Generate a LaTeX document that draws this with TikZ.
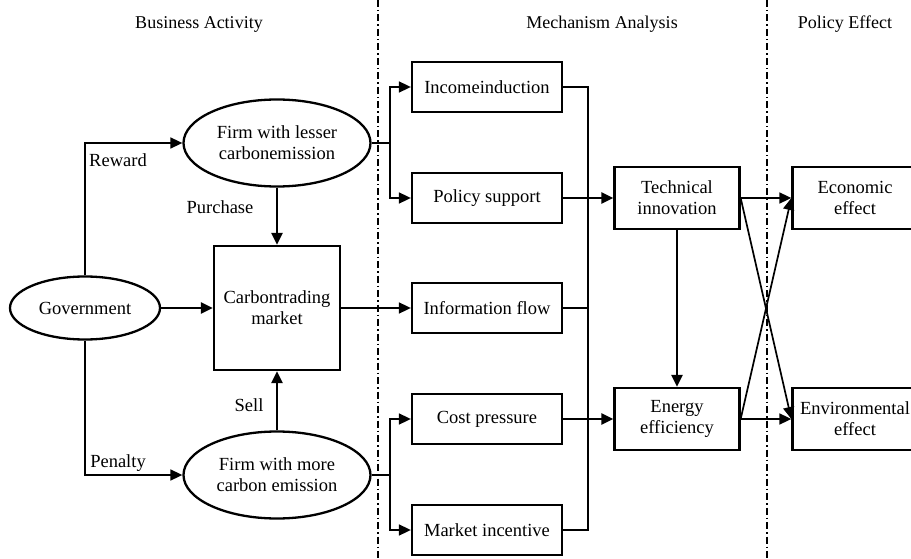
\documentclass[tikz,border=0pt]{standalone}
\usepackage{fontspec}
\setmainfont{Liberation Serif}
\usetikzlibrary{arrows.meta,shapes.geometric}
\begin{document}
\begin{tikzpicture}[x=1pt,y=-1pt,
  every node/.style={font=\fontsize{18.5}{21}\selectfont},
  bx/.style={draw, line width=2.3pt, inner sep=0pt, align=center},
  mbox/.style={bx, minimum width=150pt, minimum height=50pt},
  rbox/.style={bx, minimum width=125pt, minimum height=62pt},
  el/.style={ellipse, draw, line width=2.3pt, inner sep=0pt, align=center},
  con/.style={line width=1.7pt},
  arr/.style={con, -{Triangle[length=12pt,width=11pt]}},
  tarr/.style={line width=2.8pt, -{Triangle[length=12pt,width=11pt]}},
  sep/.style={line width=2pt, dash pattern=on 7pt off 3pt on 1.5pt off 3pt},
  hdr/.style={font=\fontsize{18}{21}\selectfont},
  lbl/.style={inner sep=0pt}
]
\useasboundingbox (0,0) rectangle (911,559);

% separators
\coordinate (s1t) at (378,0); \coordinate (s1b) at (378,559);
\coordinate (s2t) at (767,0); \coordinate (s2b) at (767,559);
\draw[sep] (s1t) -- (s1b);
\draw[sep] (s2t) -- (s2b);

% headers
\node[hdr] (h1) at (199,24) {Business Activity};
\node[hdr] (h2) at (602,24) {Mechanism Analysis};
\node[hdr] (h3) at (845,24) {Policy Effect};

% left part
\node[el, minimum width=150pt, minimum height=63pt] (gov) at (85,308) {Government};
\node[el, minimum width=187pt, minimum height=87pt] (fl) at (277,143) {Firm with lesser\\carbonemission};
\node[el, minimum width=187pt, minimum height=87pt] (fm) at (277,475) {Firm with more\\carbon emission};
\node[bx, minimum width=126pt, minimum height=124pt] (ctm) at (277,308) {Carbontrading\\market};

% middle boxes
\node[mbox] (inc)  at (487,87)  {Incomeinduction};
\node[mbox] (pol)  at (487,198) {Policy support};
\node[mbox] (inf)  at (487,308) {Information flow};
\node[mbox] (cost) at (487,419) {Cost pressure};
\node[mbox] (mkt)  at (487,530) {Market incentive};

% right boxes
\node[rbox] (tech) at (677,198) {Technical\\innovation};
\node[rbox] (ener) at (677,419) {Energy\\efficiency};
\node[rbox] (eco)  at (855,198) {Economic\\effect};
\node[rbox] (env)  at (855,419) {Environmental\\effect};

% labels
\node[lbl] (lr) at (118,160) {Reward};
\node[lbl] (lp) at (118,463) {Penalty};
\node[lbl] (lpu) at (220,207) {Purchase};
\node[lbl] (ls) at (249,405) {Sell};

% connectors left
\draw[arr] (gov.north) |- (fl.west);
\draw[arr] (gov.south) |- (fm.west);
\draw[tarr] (gov.east) -- (ctm.west);
\draw[tarr] (fl.south) -- (ctm.north);
\draw[tarr] (fm.north) -- (ctm.south);

% branches
\coordinate (b1) at (390,143);
\coordinate (b2) at (390,475);
\draw[con] (fl.east) -- (b1);
\draw[arr] (b1) |- (inc.west);
\draw[arr] (b1) |- (pol.west);
\draw[con] (fm.east) -- (b2);
\draw[arr] (b2) |- (cost.west);
\draw[arr] (b2) |- (mkt.west);
\draw[arr] (ctm.east) -- (inf.west);

% collector
\coordinate (ct) at (588,87);
\coordinate (cb) at (588,530);
\draw[con] (inc.east) -- (ct) -- (cb) -- (mkt.east);
\draw[con] (inf.east) -- (inf.east -| ct);
\draw[tarr] (pol.east) -- (tech.west);
\draw[tarr] (cost.east) -- (ener.west);

% right connectors
\draw[tarr] (tech.south) -- (ener.north);
\draw[arr] (tech.east) -- (eco.west);
\draw[arr] (ener.east) -- (env.west);
\draw[arr] (tech.east) -- (env.west);
\draw[arr] (ener.east) -- (eco.west);
\end{tikzpicture}
\end{document}
